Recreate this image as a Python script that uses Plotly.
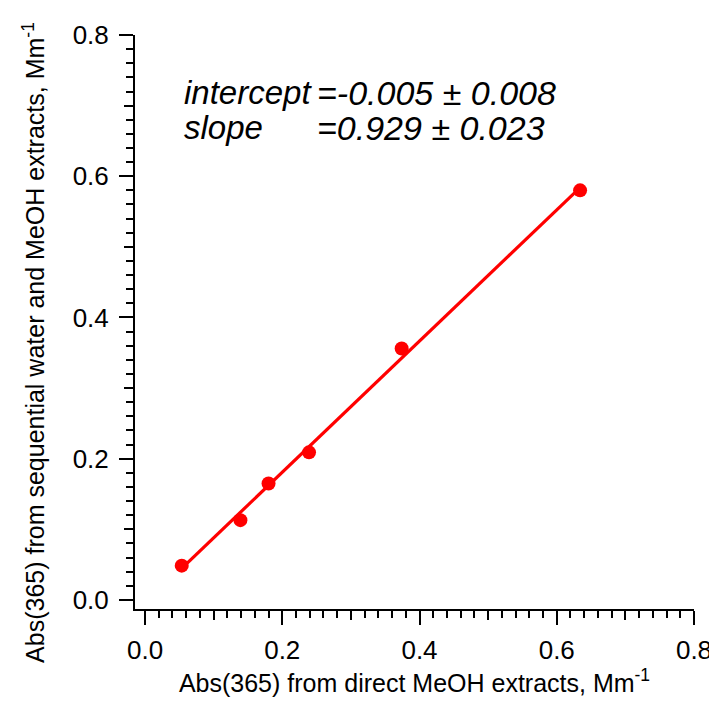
import plotly.graph_objects as go

# Data
abs_direct = [0.0535, 0.139, 0.180, 0.239, 0.374, 0.634]
abs_sequential = [0.0486, 0.113, 0.165, 0.209, 0.356, 0.580]
fit_intercept = -0.005
fit_slope = 0.929
intercept_err = 0.008
slope_err = 0.023

x_title = "Abs(365) from direct MeOH extracts, Mm<sup>-1</sup>"
y_title = "Abs(365) from sequential water and MeOH extracts, Mm<sup>-1</sup>"
major_ticks = [0.0, 0.2, 0.4, 0.6, 0.8]
major_labels = ["0.0", "0.2", "0.4", "0.6", "0.8"]
medium_ticks = [0.1, 0.3, 0.5, 0.7]

FONT = "Liberation Sans, Arial, sans-serif"
RED = "#FF0000"

fit_x = [min(abs_direct), max(abs_direct)]
fit_y = [fit_intercept + fit_slope * v for v in fit_x]

fig = go.Figure()
fig.add_trace(go.Scatter(x=fit_x, y=fit_y, mode="lines",
                         line=dict(color=RED, width=3.2), hoverinfo="skip"))
fig.add_trace(go.Scatter(x=abs_direct, y=abs_sequential, mode="markers",
                         marker=dict(color=RED, size=14, line=dict(width=0))))
# overlay axes carry the medium ticks
fig.add_trace(go.Scatter(x=[None], y=[None], xaxis="x2", yaxis="y2", showlegend=False))

xr = [-0.0146, 0.8]
yr = [-0.0128, 0.8]

axis_common = dict(
    showgrid=False, zeroline=False, showline=True, linecolor="black", linewidth=2,
    ticks="outside", tickcolor="black", tickwidth=2, ticklen=14,
    tickfont=dict(family=FONT, size=26, color="black"),
    minor=dict(ticks="outside", dtick=0.02, tick0=0, ticklen=7, tickwidth=2, tickcolor="black"),
    tickmode="array", tickvals=major_ticks, ticktext=major_labels,
)

# the page body adds an 8 px offset, so the figure is sized 8 px smaller
fig.update_layout(
    width=709, height=699,
    margin=dict(l=127, r=23, t=27, b=98, autoexpand=False),
    paper_bgcolor="white", plot_bgcolor="white",
    showlegend=False,
    xaxis=dict(range=xr, title=dict(text=x_title, font=dict(family=FONT, size=25, color="black"), standoff=8),
               ticklabelstandoff=3, **axis_common),
    yaxis=dict(range=yr, ticklabelstandoff=5, **axis_common),
    xaxis2=dict(overlaying="x", matches="x", anchor="y", side="bottom", showgrid=False, zeroline=False,
                showline=False, ticks="outside", tickvals=medium_ticks, ticklen=10, tickwidth=2,
                tickcolor="black", showticklabels=False),
    yaxis2=dict(overlaying="y", matches="y", anchor="x", side="left", showgrid=False, zeroline=False,
                showline=False, ticks="outside", tickvals=medium_ticks, ticklen=10, tickwidth=2,
                tickcolor="black", showticklabels=False),
)

# y-axis title placed as rotated text (it sits a little below the plot centre in the reference)
fig.add_annotation(xref="paper", yref="paper", x=-0.181, y=0.465, xanchor="center", yanchor="middle",
                   text=y_title, textangle=-90, showarrow=False,
                   font=dict(family=FONT, size=25, color="black"))

lines = [("intercept", f"=-{abs(fit_intercept):.3f} ± {intercept_err:.3f}", 0.899),
         ("slope", f"={fit_slope:.3f} ± {slope_err:.3f}", 0.838)]
for label, value, yy in lines:
    fig.add_annotation(xref="paper", yref="paper", x=0.084, y=yy, xanchor="left", yanchor="middle",
                       text=f"<i>{label}</i>", showarrow=False,
                       font=dict(family=FONT, size=33, color="black"))
    fig.add_annotation(xref="paper", yref="paper", x=0.322, y=yy, xanchor="left", yanchor="middle",
                       text=f"<i>{value}</i>", showarrow=False,
                       font=dict(family=FONT, size=34, color="black"))

fig.write_html("out.html")
